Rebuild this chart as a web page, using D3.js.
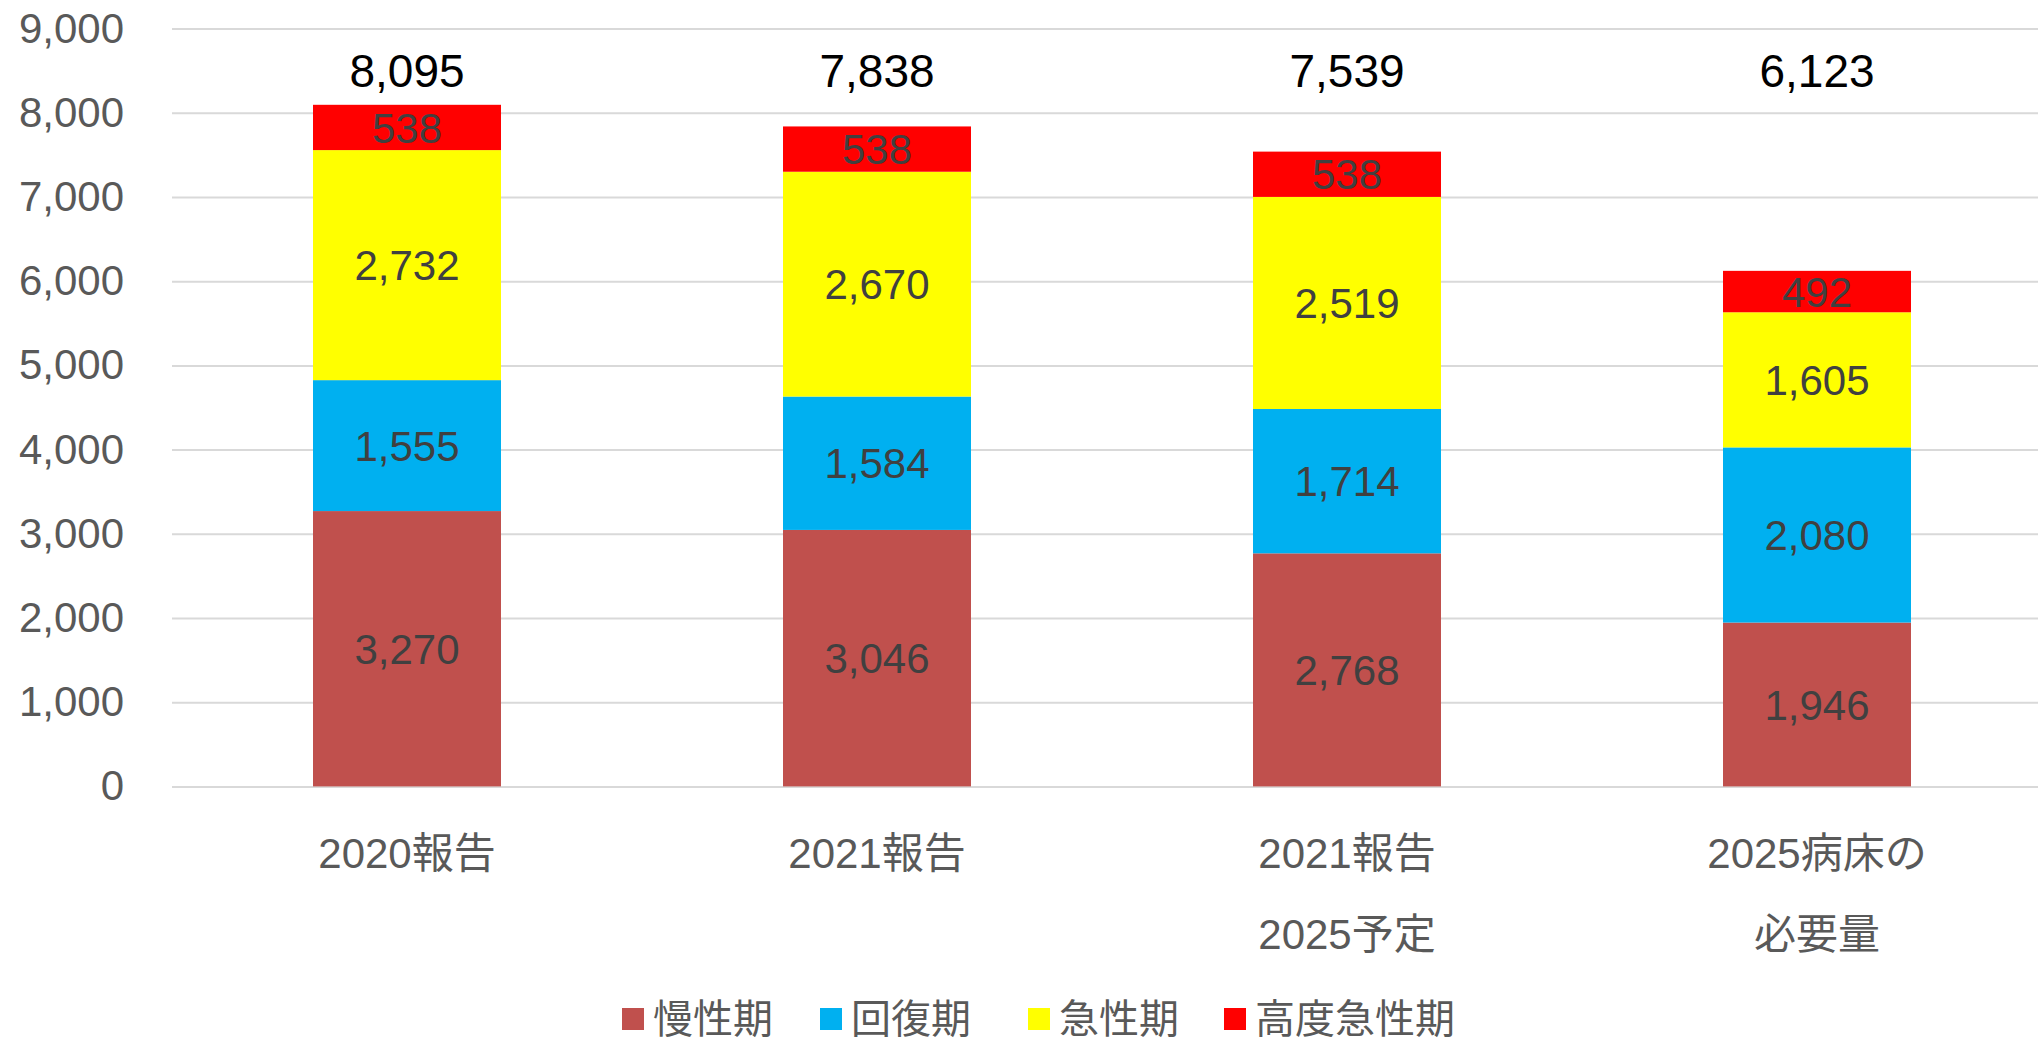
<!DOCTYPE html>
<html>
<head>
<meta charset="utf-8">
<script src="https://cdn.jsdelivr.net/npm/d3@7"></script>
<style>
  body { margin: 0; background: #fff; overflow: hidden; }
  text { font-family: "Liberation Sans", Arial, "Noto Sans CJK JP", sans-serif; }
</style>
</head>
<body>
<div id="chart"></div>
<script>
// data
const categories = ["2020報告", "2021報告", "2021報告2025予定", "2025病床の必要量"];
const categoryLines = [["2020報告"], ["2021報告"], ["2021報告", "2025予定"], ["2025病床の", "必要量"]];
const seriesNames = ["慢性期", "回復期", "急性期", "高度急性期"];
const chronic = [3270, 3046, 2768, 1946];
const recovery = [1555, 1584, 1714, 2080];
const acute = [2732, 2670, 2519, 1605];
const highAcute = [538, 538, 538, 492];
const totals = [8095, 7838, 7539, 6123];
const yTicks = [0, 1000, 2000, 3000, 4000, 5000, 6000, 7000, 8000, 9000];
const colors = ["#c0504d", "#00b0f0", "#ffff00", "#ff0000"];

const width = 2038, height = 1044;
const plotLeft = 172, plotRight = 2052, plotTop = 28.6, plotBottom = 786.4;

const svg = d3.select("#chart").append("svg")
  .attr("width", width)
  .attr("height", height);

const rows = categories.map((c, i) => ({
  cat: c,
  "慢性期": chronic[i],
  "回復期": recovery[i],
  "急性期": acute[i],
  "高度急性期": highAcute[i]
}));

const stacked = d3.stack().keys(seriesNames)(rows);

// scales
const x = d3.scaleBand()
  .domain(categories)
  .range([plotLeft, plotRight])
  .paddingInner(0.6)
  .paddingOuter(0.3);

const y = d3.scaleLinear()
  .domain([0, 9000])
  .range([plotBottom, plotTop]);

const fmt = d3.format(",");

// gridlines + y labels
const yAxis = svg.append("g")
  .attr("transform", `translate(${plotLeft},0)`)
  .call(d3.axisLeft(y).tickValues(yTicks).tickSize(-(plotRight - plotLeft)).tickPadding(48).tickFormat(fmt));
yAxis.select(".domain").remove();
yAxis.selectAll(".tick line")
  .attr("stroke", "#d9d9d9")
  .attr("stroke-width", 2);
yAxis.selectAll(".tick text")
  .attr("fill", "#595959")
  .attr("font-size", 42)
  .attr("font-family", "'Liberation Sans', Arial, sans-serif");

// bars
const layers = svg.append("g").selectAll("g")
  .data(stacked)
  .join("g")
  .attr("fill", (d, i) => colors[i]);

layers.selectAll("rect")
  .data(d => d)
  .join("rect")
  .attr("x", d => x(d.data.cat))
  .attr("y", d => y(d[1]))
  .attr("width", x.bandwidth())
  .attr("height", d => y(d[0]) - y(d[1]));

// segment labels
layers.selectAll("text")
  .data(d => d.map(v => ({ v, key: d.key })))
  .join("text")
  .attr("x", d => x(d.v.data.cat) + x.bandwidth() / 2)
  .attr("y", d => (y(d.v[0]) + y(d.v[1])) / 2)
  .attr("dy", "0.36em")
  .attr("text-anchor", "middle")
  .attr("fill", "#404040")
  .attr("font-size", 42)
  .text(d => fmt(d.v.data[d.key]));

// totals
svg.append("g").selectAll("text")
  .data(totals)
  .join("text")
  .attr("x", (d, i) => x(categories[i]) + x.bandwidth() / 2)
  .attr("y", y(9000) + 58)
  .attr("text-anchor", "middle")
  .attr("fill", "#000")
  .attr("font-size", 46)
  .text(d => fmt(d));

// x labels
const xl = svg.append("g").selectAll("text")
  .data(categoryLines)
  .join("text")
  .attr("x", (d, i) => x(categories[i]) + x.bandwidth() / 2)
  .attr("y", plotBottom + 82)
  .attr("text-anchor", "middle")
  .attr("fill", "#595959")
  .attr("font-size", 42);
xl.selectAll("tspan")
  .data(d => d)
  .join("tspan")
  .attr("x", function() { return d3.select(this.parentNode).attr("x"); })
  .attr("dy", (d, i) => i === 0 ? 0 : 81)
  .text(d => d);

// legend
const legendX = [622, 820, 1028, 1224];
const legend = svg.append("g").selectAll("g")
  .data(seriesNames)
  .join("g")
  .attr("transform", (d, i) => `translate(${legendX[i]},1008)`);
legend.append("rect")
  .attr("width", 22)
  .attr("height", 22)
  .attr("fill", (d, i) => colors[i]);
legend.append("text")
  .attr("x", 31)
  .attr("y", 11)
  .attr("dy", "0.36em")
  .attr("fill", "#595959")
  .attr("font-size", 40)
  .text(d => d);
</script>
</body>
</html>
